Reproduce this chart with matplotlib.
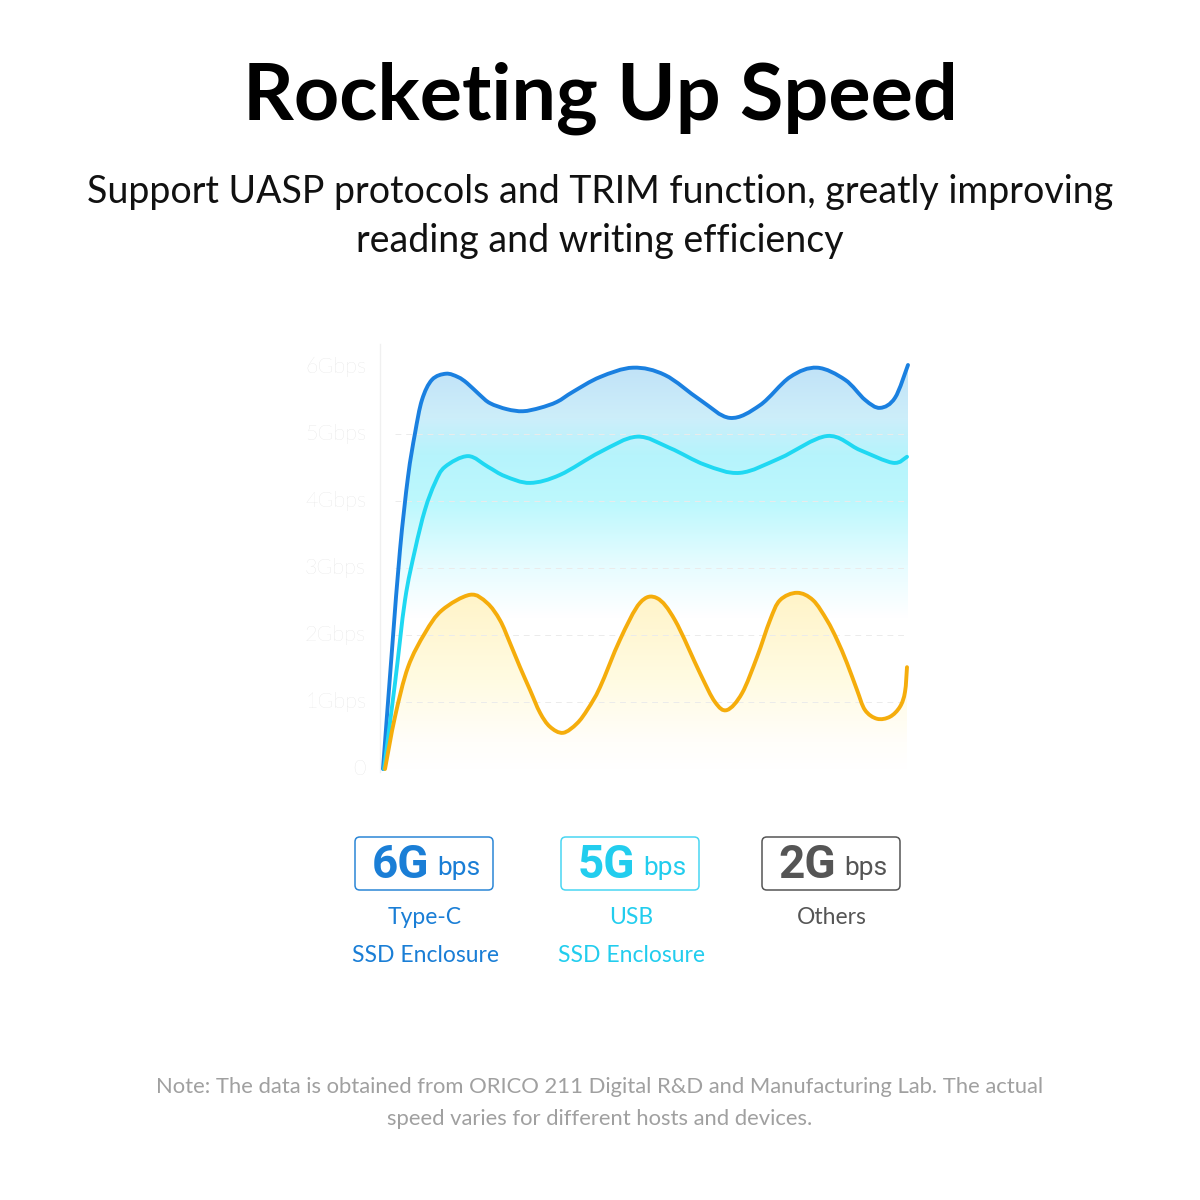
import numpy as np
import matplotlib.pyplot as plt
from matplotlib.colors import LinearSegmentedColormap
from matplotlib.patches import FancyBboxPatch, PathPatch
from matplotlib.path import Path

# ---- data (x = time units, y = Gbps) ----
x_6g = [0, 9, 17, 25, 32, 39, 49, 63, 75, 84, 97, 107, 124, 140, 157, 174, 190,
        217, 250, 282, 317, 347, 377, 407, 434, 462, 482, 497, 512, 525]
y_6g = [0, 1.78, 3.27, 4.36, 5.01, 5.51, 5.81, 5.90, 5.85, 5.76, 5.58, 5.46, 5.37,
        5.34, 5.39, 5.48, 5.63, 5.85, 5.99, 5.88, 5.51, 5.24, 5.43, 5.85, 5.99,
        5.81, 5.51, 5.39, 5.54, 6.03]

x_5g = [1, 12, 22, 32, 42, 52, 62, 85, 105, 122, 147, 177, 217, 254, 287, 322,
        357, 397, 444, 477, 510, 524]
y_5g = [0, 1.28, 2.52, 3.27, 3.87, 4.27, 4.51, 4.67, 4.51, 4.37, 4.27, 4.39,
        4.73, 4.96, 4.79, 4.54, 4.42, 4.64, 4.97, 4.76, 4.57, 4.66]

x_2g = [2, 12, 25, 42, 59, 87, 104, 117, 127, 137, 147, 157, 167, 180, 194, 205,
        217, 237, 257, 274, 292, 317, 332, 344, 359, 374, 387, 397, 414, 430, 444,
        454, 464, 474, 482, 494, 507, 517, 522, 524]
y_2g = [0, 0.78, 1.52, 2.03, 2.37, 2.60, 2.48, 2.22, 1.88, 1.52, 1.18, 0.84, 0.63,
        0.54, 0.68, 0.90, 1.22, 1.93, 2.48, 2.55, 2.22, 1.43, 1.0, 0.88, 1.13, 1.67,
        2.22, 2.52, 2.63, 2.52, 2.22, 1.93, 1.58, 1.18, 0.88, 0.75, 0.78, 0.93,
        1.15, 1.52]

y_ticks = [0, 1, 2, 3, 4, 5, 6]
y_labels = ['0', '1Gbps', '2Gbps', '3Gbps', '4Gbps', '5Gbps', '6Gbps']

speeds = ['6G', '5G', '2G']
names = [['Type-C', 'SSD Enclosure'], ['USB', 'SSD Enclosure'], ['Others']]
line_colors = ['#1a80e0', '#1fd8f2', '#f5ad0c']
text_colors = ['#1a7ed6', '#22cdee', '#555555']
box_colors = ['#2b86d6', '#49d6f2', '#555555']

W = 1200


def fx(px):
    return px / W


def fy(py):
    return 1 - py / W


def smooth_path(xs, ys, close=False):
    # Catmull-Rom through the read points, drawn as cubic Bezier segments
    p = np.column_stack([xs, ys]).astype(float)
    n = len(p)
    verts = [p[0]]
    codes = [Path.MOVETO]
    for i in range(n - 1):
        p0 = p[max(i - 1, 0)]
        p1 = p[i]
        p2 = p[i + 1]
        p3 = p[min(i + 2, n - 1)]
        verts += [p1 + (p2 - p0) / 6, p2 - (p3 - p1) / 6, p2]
        codes += [Path.CURVE4] * 3
    if close:
        verts += [(xs[-1], 0), (xs[0], 0), (xs[0], 0)]
        codes += [Path.LINETO, Path.LINETO, Path.CLOSEPOLY]
    return Path(verts, codes)


fig = plt.figure(figsize=(12, 12), dpi=100)

# axes placed so that 0 Gbps sits at y=769 px and each Gbps is 67 px
ymin, ymax = -0.05, 6.35
xmin, xmax = -3, 530
ax = fig.add_axes([fx(380), fy(769 + 67 * 0.05), 533 / W, 67 * (ymax - ymin) / W])
ax.set_xlim(xmin, xmax)
ax.set_ylim(ymin, ymax)
for s in ['top', 'right', 'bottom']:
    ax.spines[s].set_visible(False)
ax.spines['left'].set_color('#f0f0f0')
ax.spines['left'].set_linewidth(1)
ax.set_xticks([])
ax.set_yticks([])

grad = np.linspace(0, 1, 256).reshape(-1, 1)

# gradient fill under the 6G curve
blue_cmap = LinearSegmentedColormap.from_list('bl', [
    (0.0, '#ffffff'), (0.37, '#ffffff'), (0.5, '#e6fcff'), (0.65, '#bdf8fd'),
    (0.77, '#b6f4fc'), (0.86, '#cdeefa'), (1.0, '#bfe1f7')])
im = ax.imshow(grad, cmap=blue_cmap, origin='lower', aspect='auto',
               extent=[0, 525, 0, 6.1], zorder=1)
patch = PathPatch(smooth_path(x_6g, y_6g, close=True), transform=ax.transData,
                  facecolor='none', edgecolor='none')
ax.add_patch(patch)
im.set_clip_path(patch)

# gradient fill under the 2G curve
yel_cmap = LinearSegmentedColormap.from_list('yl', [
    (0.0, '#ffffff'), (0.15, '#fffefa'), (0.5, '#fffbe2'), (1.0, '#fff4c8')])
im2 = ax.imshow(grad, cmap=yel_cmap, origin='lower', aspect='auto',
                extent=[0, 525, 0, 2.65], zorder=2)
patch2 = PathPatch(smooth_path(x_2g, y_2g, close=True), transform=ax.transData,
                   facecolor='none', edgecolor='none')
ax.add_patch(patch2)
im2.set_clip_path(patch2)

# grid lines
for v in y_ticks[1:6]:
    ax.plot([12, 525], [v, v], color='#ebebeb', lw=0.7, ls=(0, (6, 5)), zorder=3)

# curves
for xs, ys, c in [(x_6g, y_6g, line_colors[0]), (x_5g, y_5g, line_colors[1]),
                  (x_2g, y_2g, line_colors[2])]:
    ax.add_patch(PathPatch(smooth_path(xs, ys), facecolor='none', edgecolor=c,
                           lw=2.8, capstyle='round', joinstyle='round', zorder=5))

# y labels
for v, lab in zip(y_ticks, y_labels):
    ax.text(-17, v, lab, ha='right', va='center', fontsize=15.5, color='#d6d6d6',
            family='Lato', fontweight='light')

# title and subtitle
fig.text(0.5, fy(120), 'Rocketing Up Speed', ha='center', va='baseline',
         fontsize=57, fontweight='bold', family='Lato', color='#000000')
fig.text(0.5, fy(203), 'Support UASP protocols and TRIM function, greatly improving',
         ha='center', va='baseline', fontsize=27, family='Lato', color='#111111')
fig.text(0.5, fy(252), 'reading and writing efficiency',
         ha='center', va='baseline', fontsize=27, family='Lato', color='#111111')

# legend boxes
box_left = [355, 561, 762]
for i in range(3):
    bx = box_left[i]
    box = FancyBboxPatch((fx(bx), fy(890)), 138 / W, 53 / W,
                         boxstyle='round,pad=0,rounding_size=0.004',
                         transform=fig.transFigure, facecolor='white',
                         edgecolor=box_colors[i], lw=1.1)
    fig.patches.append(box)
    fig.text(fx(bx + 74), fy(878), speeds[i], ha='right', va='baseline',
             fontsize=33, fontweight='bold', family='Roboto', color=text_colors[i])
    fig.text(fx(bx + 82), fy(875), 'bps', ha='left', va='baseline',
             fontsize=19, family='Roboto', color=text_colors[i])
    for j, line in enumerate(names[i]):
        fig.text(fx(bx + 70), fy(918 + 37 * j), line, ha='center', va='center',
                 fontsize=16.5, family='Lato', color=text_colors[i])

# note
fig.text(0.5, fy(1087), 'Note: The data is obtained from ORICO 211 Digital R&D and '
         'Manufacturing Lab. The actual', ha='center', va='center', fontsize=15.8,
         family='Lato', color='#a0a0a0')
fig.text(0.5, fy(1119), 'speed varies for different hosts and devices.',
         ha='center', va='center', fontsize=15.8, family='Lato', color='#a0a0a0')

fig.savefig('out.png', dpi=100, facecolor='white')
